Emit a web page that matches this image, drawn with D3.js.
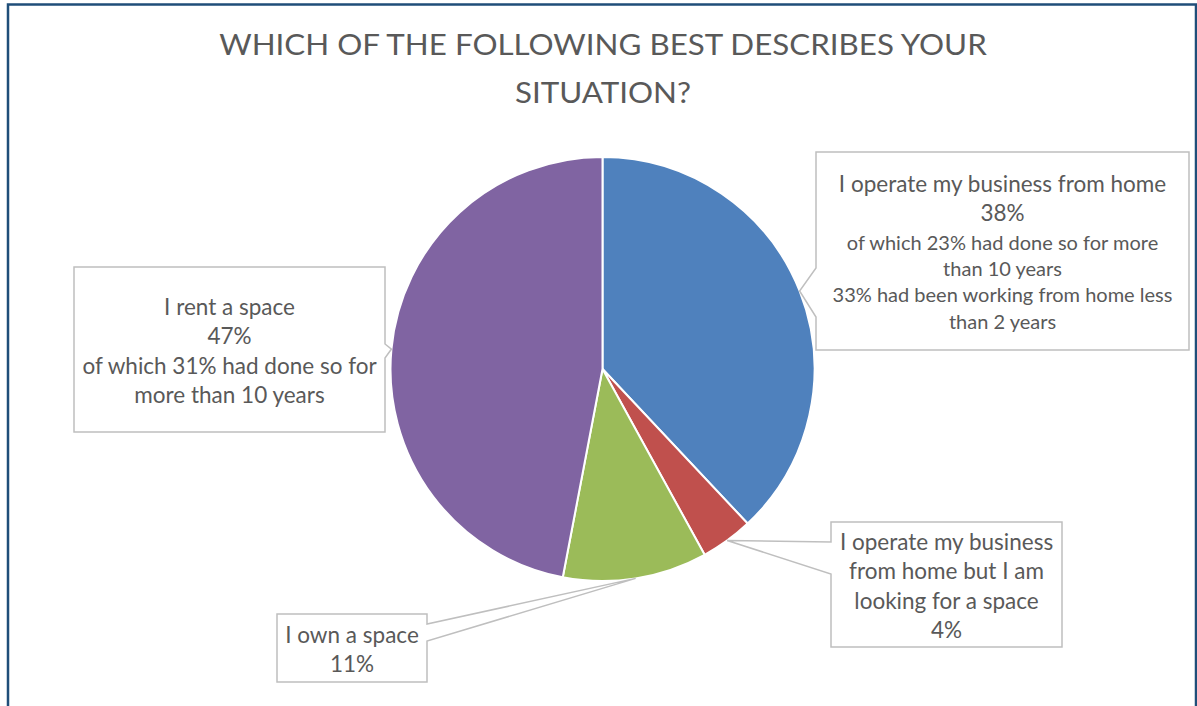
<!DOCTYPE html>
<html>
<head>
<meta charset="utf-8">
<script src="https://cdn.jsdelivr.net/npm/d3@7/dist/d3.min.js"></script>
<style>
  html, body { margin: 0; padding: 0; background: #fff; }
  svg { display: block; }
  text { font-family: Lato, "Open Sans", sans-serif; fill: #595959; }
</style>
</head>
<body>
<svg id="chart" width="1197" height="706"></svg>
<script>
// Survey answers, in the order the slices run clockwise from 12 o'clock
const categories = [
  "I operate my business from home",
  "I operate my business from home but I am looking for a space",
  "I own a space",
  "I rent a space"
];
const shares = [38, 4, 11, 47];
const colors = ["#4f81bd", "#c0504d", "#9bbb59", "#8064a2"];

const titleLines = ["WHICH OF THE FOLLOWING BEST DESCRIBES YOUR", "SITUATION?"];

// Callout text: main lines, then the smaller detail lines
const labelMain = [
  ["I operate my business from home", "38%"],
  ["I operate my business", "from home but I am", "looking for a space", "4%"],
  ["I own a space", "11%"],
  ["I rent a space", "47%", "of which 31% had done so for", "more than 10 years"]
];
const labelDetail = [
  ["of which 23% had done so for more", "than 10 years", "33% had been working from home less", "than 2 years"],
  [],
  [],
  []
];

const svg = d3.select("#chart");

// Outer frame
svg.append("path")
  .attr("d", "M8,712 L8,4.5 L1196,4.5 L1196,712")
  .attr("fill", "none")
  .attr("stroke", "#1f4e79")
  .attr("stroke-width", 2.5);

// Title, widened a little so the first line spans the frame's title area
const titleX = 603, titleWidth = 768;
const titleG = svg.append("g");
const title = titleG.append("text")
  .attr("text-anchor", "middle")
  .style("font-size", "28px");
titleLines.forEach((t, i) => {
  title.append("tspan")
    .attr("x", 0)
    .attr("y", 55 + i * 48.5)
    .text(t);
});
const firstLen = title.select("tspan").node().getComputedTextLength();
titleG.attr("transform", `translate(${titleX},0) scale(${titleWidth / firstLen},1)`);

// Pie
const cx = 602.5, cy = 369, R = 212;
const g = svg.append("g").attr("transform", `translate(${cx},${cy})`);
const pie = d3.pie().sort(null).value(d => d);
const arcs = pie(shares);
const arc = d3.arc().innerRadius(0).outerRadius(R);
const rim = d3.arc().innerRadius(R).outerRadius(R);

g.selectAll("path.slice")
  .data(arcs)
  .join("path")
  .attr("class", "slice")
  .attr("d", arc)
  .attr("fill", (d, i) => colors[i])
  .attr("stroke", "#fff")
  .attr("stroke-width", 2)
  .attr("stroke-linejoin", "round");

// Callout boxes; the pointer tip sits on the rim at the middle of its slice
const boxes = [
  { x: 816, y: 152, w: 373, h: 198, side: "left",  base: [268, 317] },
  { x: 831, y: 522, w: 231, h: 125, side: "left",  base: [542, 574] },
  { x: 277, y: 614, w: 150, h: 68,  side: "right", base: [624, 641] },
  { x: 74,  y: 267, w: 311, h: 165, side: "right", base: [344, 358] }
];

const mainSize = 22.5, detailSize = 20;
const mainLH = 29.5, detailLH = 26.3;

boxes.forEach((b, i) => {
  const c = rim.centroid(arcs[i]);
  const vx = cx + c[0], vy = cy + c[1];
  const p = d3.path();
  p.moveTo(b.x, b.y);
  p.lineTo(b.x + b.w, b.y);
  if (b.side === "right") {
    p.lineTo(b.x + b.w, b.base[0]);
    p.lineTo(vx, vy);
    p.lineTo(b.x + b.w, b.base[1]);
  }
  p.lineTo(b.x + b.w, b.y + b.h);
  p.lineTo(b.x, b.y + b.h);
  if (b.side === "left") {
    p.lineTo(b.x, b.base[1]);
    p.lineTo(vx, vy);
    p.lineTo(b.x, b.base[0]);
  }
  p.closePath();
  svg.append("path")
    .attr("d", p.toString())
    .attr("fill", "#fff")
    .attr("stroke", "#bfbfbf")
    .attr("stroke-width", 1.5)
    .attr("stroke-linejoin", "miter");

  const lines = labelMain[i].map(t => ({ t, size: mainSize, lh: mainLH }))
    .concat(labelDetail[i].map(t => ({ t, size: detailSize, lh: detailLH })));
  // vertical offsets between consecutive line centres
  const ys = [0];
  for (let k = 1; k < lines.length; k++) ys.push(ys[k - 1] + lines[k - 1].lh);
  const span = ys[ys.length - 1];
  const top = b.y + b.h / 2 - span / 2 + 1.5;
  const tx = b.x + b.w / 2;
  const text = svg.append("text").attr("text-anchor", "middle");
  lines.forEach((ln, k) => {
    text.append("tspan")
      .attr("x", tx)
      .attr("y", top + ys[k])
      .attr("dy", "0.36em")
      .style("font-size", ln.size + "px")
      .text(ln.t);
  });
});
</script>
</body>
</html>
